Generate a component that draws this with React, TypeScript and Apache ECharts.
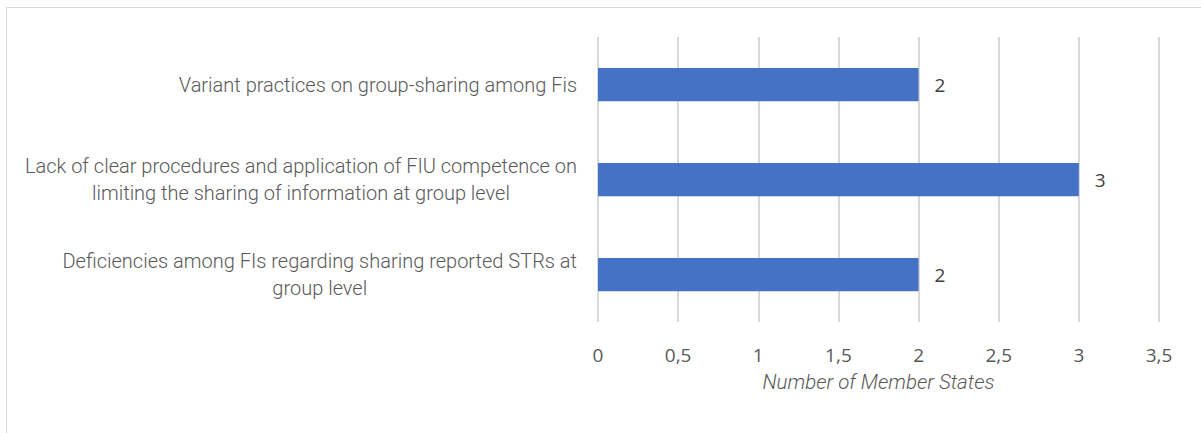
import React, { useEffect, useRef } from "react";
import * as echarts from "echarts";

const categories = [
  "Variant practices on group-sharing among Fis",
  "Lack of clear procedures and application of FIU competence on\nlimiting the sharing of information at group level",
  "Deficiencies among FIs regarding sharing reported STRs at\ngroup level",
];
const values = [2, 3, 2];
const xTicks = { min: 0, max: 3.5, interval: 0.5 };
const axisTitle = "Number of Member States";

const NARROW = "Roboto, sans-serif";
const BODY = "'Open Sans', 'Noto Sans', sans-serif";

export default function App() {
  const ref = useRef<HTMLDivElement>(null);
  useEffect(() => {
    if (!ref.current) return;
    const chart = echarts.init(ref.current, null, { renderer: "svg" });
    chart.setOption({
      animation: false,
      backgroundColor: "#ffffff",
      graphic: [
        {
          type: "rect",
          shape: { x: 6.5, y: 7.5, width: 1210, height: 440 },
          style: { fill: "none", stroke: "#d9d9d9", lineWidth: 1 },
          z: -1,
        },
      ],
      grid: {
        left: 598,
        right: 42,
        top: 37,
        bottom: 111,
        containLabel: false,
        outerBoundsMode: "none",
      },
      xAxis: {
        type: "value",
        min: xTicks.min,
        max: xTicks.max,
        interval: xTicks.interval,
        name: axisTitle,
        nameLocation: "middle",
        nameGap: 50,
        nameTextStyle: {
          fontFamily: NARROW,
          fontStyle: "italic",
          fontWeight: 300,
          fontSize: 20.5,
          color: "#595959",
        },
        axisLine: { show: false },
        axisTick: { show: false },
        axisLabel: {
          margin: 23,
          fontFamily: BODY,
          fontSize: 19,
          color: "#595959",
          formatter: (v: number) => String(v).replace(".", ","),
        },
        splitLine: { show: true, lineStyle: { color: "#d9d9d9", width: 2 } },
      },
      yAxis: {
        type: "category",
        data: categories,
        inverse: true,
        axisLine: { show: false },
        axisTick: { show: false },
        axisLabel: {
          margin: 21,
          formatter: (v: string) =>
            v
              .split("\n")
              .map((l) => `{c|${l}}`)
              .join("\n"),
          rich: {
            c: {
              align: "center",
              fontFamily: NARROW,
              fontWeight: 300,
              fontSize: 20,
              lineHeight: 27,
              color: "#595959",
            },
          },
        },
      },
      series: [
        {
          type: "bar",
          data: values,
          barWidth: "35%",
          itemStyle: { color: "#4472C4" },
          label: {
            show: true,
            position: "right",
            distance: 16,
            fontFamily: BODY,
            fontSize: 19,
            color: "#404040",
          },
        },
      ],
    });
    return () => chart.dispose();
  }, []);
  return <div ref={ref} style={{ width: 1201, height: 433, position: "absolute", left: 0, top: 0 }} />;
}
